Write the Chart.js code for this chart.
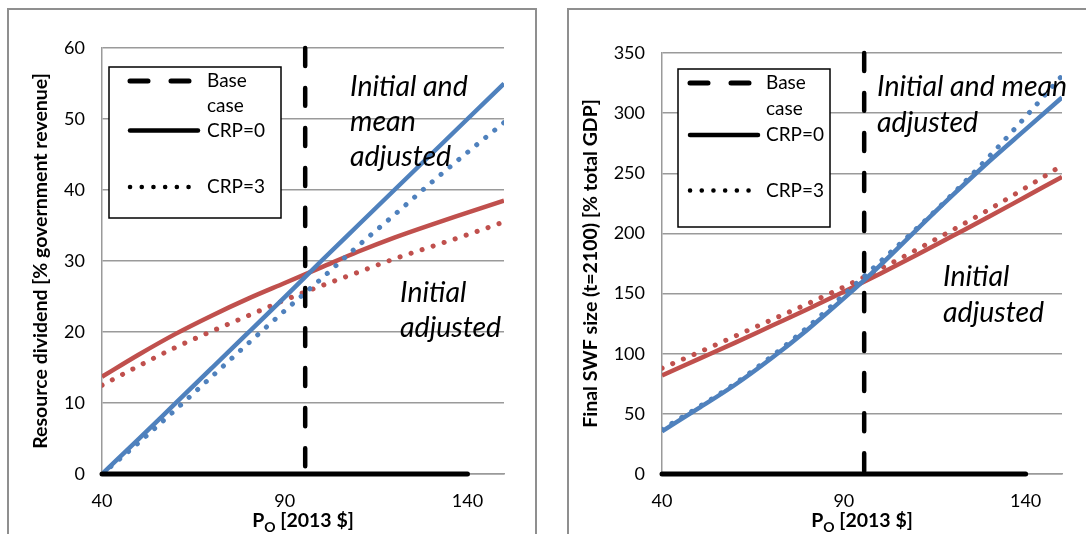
<!DOCTYPE html>
<html>
<head>
<meta charset="utf-8">
<script src="https://cdn.jsdelivr.net/npm/chart.js@4.4.1/dist/chart.umd.min.js"></script>
<style>
html, body { margin: 0; padding: 0; background: #fff; overflow: hidden; width: 1086px; height: 534px; }
.panel { position: absolute; border: 2px solid #8f8f8f; background: #fff; }
#leftPanel { left: 7px; top: 8px; width: 526px; height: 600px; }
#rightPanel { left: 567px; top: 8px; width: 600px; height: 600px; }
canvas { display: block; }
</style>
</head>
<body>
<div class="panel" id="leftPanel"><canvas id="dividend" width="526" height="524"></canvas></div>
<div class="panel" id="rightPanel"><canvas id="swf" width="517" height="524"></canvas></div>
<script>
// oil price grid [2013 $]
const price = [40, 50, 60, 70, 80, 90, 100, 110, 120, 130, 140, 150];

// resource dividend [% government revenue]
const dividendBothCrp0 = [0, 4.9, 9.9, 14.9, 19.9, 24.9, 30, 35, 40, 45, 50, 55];
const dividendBothCrp3 = [0, 4.4, 9.0, 13.7, 18.4, 23.0, 27.5, 32.1, 36.5, 41.0, 45.3, 49.5];
const dividendInitCrp0 = [13.7, 16.8, 19.7, 22.3, 24.7, 26.9, 29.1, 31.3, 33.3, 35.1, 36.8, 38.5];
const dividendInitCrp3 = [12.5, 15.2, 17.8, 20.1, 22.3, 24.5, 26.5, 28.4, 30.3, 32.0, 33.7, 35.5];

// final SWF size (t=2100) [% total GDP]
const swfBothCrp0 = [35.5, 54.5, 74, 96, 120, 146, 173.5, 203, 232, 260, 286.5, 313];
const swfBothCrp3 = [37, 55.5, 75, 97.5, 122, 149, 176.5, 204, 233, 264, 297, 331];
const swfInitCrp0 = [82, 95.5, 109, 123, 137, 151.5, 166.5, 182, 198, 214, 230.5, 247];
const swfInitCrp3 = [88, 101, 114.5, 128, 141.5, 155.5, 170.5, 186.5, 203, 220, 238, 256.5];

const basePrice = 95.6;
const zeroLineX = [40, 140];

const xTicks = [40, 90, 140];
const dividendTicks = [0, 10, 20, 30, 40, 50, 60];
const swfTicks = [0, 50, 100, 150, 200, 250, 300, 350];

const legendLabels = [["Base", "case"], ["CRP=0"], ["CRP=3"]];
const dividendNotes = [["Initial and", "mean", "adjusted"], ["Initial", "adjusted"]];
const swfNotes = [["Initial and mean", "adjusted"], ["Initial", "adjusted"]];

const blue = "#4f81bd";
const red = "#c0504d";
const gridGray = "#9a9a9a";

Chart.defaults.font.family = "Lato, sans-serif";
Chart.defaults.color = "#000";


function pts(xs, ys) {
    return xs.map((x, i) => ({ x: x, y: ys[i] }));
}


function buildDatasets(yTicks, bothCrp0, bothCrp3, initCrp0, initCrp3) {

    const top = yTicks[yTicks.length - 1];

    return [
        {
            data: pts(zeroLineX, [0, 0]),
            borderColor: "#000",
            borderWidth: 5,
            borderCapStyle: "round",
            clip: false
        },
        {
            data: [{ x: basePrice, y: top }, { x: basePrice, y: 0 }],
            borderColor: "#000",
            borderWidth: 4.5,
            borderDash: [18, 22],
            borderCapStyle: "round",
            clip: false
        },
        {
            data: pts(price, bothCrp0),
            borderColor: blue,
            borderWidth: 4.5
        },
        {
            data: pts(price, bothCrp3),
            borderColor: blue,
            borderWidth: 5,
            borderDash: [0.1, 11.5],
            borderCapStyle: "round"
        },
        {
            data: pts(price, initCrp0),
            borderColor: red,
            borderWidth: 4.5
        },
        {
            data: pts(price, initCrp3),
            borderColor: red,
            borderWidth: 5,
            borderDash: [0.1, 11.5],
            borderCapStyle: "round"
        }
    ];
}


// legend box, notes and x title with subscript
const decor = {

    id: "decor",

    afterDraw(chart, args, o) {

        const ctx = chart.ctx;
        const area = chart.chartArea;

        ctx.save();

        // legend
        const b = o.box;

        ctx.fillStyle = "#fff";
        ctx.fillRect(b.x, b.y, b.w, b.h);
        ctx.lineWidth = 1.5;
        ctx.strokeStyle = "#000";
        ctx.strokeRect(b.x, b.y, b.w, b.h);

        ctx.strokeStyle = "#000";
        ctx.lineCap = "round";

        // base case dashes
        ctx.lineWidth = 5;
        ctx.setLineDash([]);
        let y0 = b.y + o.rows[0];
        ctx.beginPath();
        ctx.moveTo(o.sx + 2, y0); ctx.lineTo(o.sx + 20, y0);
        ctx.moveTo(o.sx + 43, y0); ctx.lineTo(o.sx + 61, y0);
        ctx.stroke();

        // CRP=0 solid
        let y1 = b.y + o.rows[2];
        ctx.lineWidth = 4.5;
        ctx.beginPath();
        ctx.moveTo(o.sx + 2, y1); ctx.lineTo(o.sx + 70, y1);
        ctx.stroke();

        // CRP=3 dots
        let y2 = b.y + o.rows[3];
        ctx.lineWidth = 4.5;
        ctx.setLineDash([0.1, 11.6]);
        ctx.beginPath();
        ctx.moveTo(o.sx + 2, y2); ctx.lineTo(o.sx + 62, y2);
        ctx.stroke();
        ctx.setLineDash([]);

        ctx.fillStyle = "#000";
        ctx.font = "19px Lato";
        ctx.textBaseline = "middle";
        ctx.textAlign = "left";
        ctx.fillText(legendLabels[0][0], o.tx, b.y + o.rows[0]);
        ctx.fillText(legendLabels[0][1], o.tx, b.y + o.rows[1]);
        ctx.fillText(legendLabels[1][0], o.tx, b.y + o.rows[2]);
        ctx.fillText(legendLabels[2][0], o.tx, b.y + o.rows[3]);

        // notes
        ctx.font = "italic 28.5px Lato";
        o.notes.forEach((lines, i) => {
            const p = o.notePos[i];
            lines.forEach((t, j) => {
                ctx.fillText(t, p.x, p.y + j * o.noteGap);
            });
        });

        // x axis title: P with subscript O
        const big = "bold 19.5px Lato";
        const small = "bold 14px Lato";
        ctx.font = big;
        const wP = ctx.measureText("P").width;
        const wRest = ctx.measureText(" [2013 $]").width;
        ctx.font = small;
        const wO = ctx.measureText("O").width;
        let x = (area.left + area.right) / 2 - (wP + wO + wRest) / 2;
        const ty = o.titleY;

        ctx.font = big;
        ctx.fillText("P", x, ty);
        x += wP;
        ctx.font = small;
        ctx.fillText("O", x, ty + 6);
        x += wO;
        ctx.font = big;
        ctx.fillText(" [2013 $]", x, ty);

        ctx.restore();
    }
};


function makeChart(canvasId, yTicks, yTitle, yTitlePad, datasets, pad, decorOpts) {

    return new Chart(document.getElementById(canvasId), {

        type: "scatter",

        data: { datasets: datasets },

        options: {
            responsive: false,
            animation: false,
            showLine: true,
            elements: {
                point: { radius: 0 },
                line: { cubicInterpolationMode: "monotone" }
            },
            layout: {
                padding: pad
            },
            plugins: {
                legend: { display: false },
                tooltip: { enabled: false },
                decor: decorOpts
            },
            scales: {
                x: {
                    type: "linear",
                    min: 40,
                    max: 150,
                    afterBuildTicks: s => { s.ticks = xTicks.map(v => ({ value: v })); },
                    afterFit: s => { s.height = 60; },
                    grid: { display: false, drawTicks: false },
                    border: { display: true, color: gridGray, width: 1.5 },
                    ticks: { font: { size: 18 }, padding: 16, maxRotation: 0, autoSkip: false }
                },
                y: {
                    type: "linear",
                    min: 0,
                    max: yTicks[yTicks.length - 1],
                    afterBuildTicks: s => { s.ticks = yTicks.map(v => ({ value: v })); },
                    afterFit: s => { s.width = 93; },
                    grid: { color: gridGray, lineWidth: 1.5, drawTicks: false },
                    border: { display: true, color: gridGray, width: 1.5 },
                    ticks: { font: { size: 18 }, padding: 17 },
                    title: {
                        display: true,
                        text: yTitle,
                        font: { size: 19.5, weight: "bold" },
                        padding: { top: yTitlePad, bottom: 0 }
                    }
                }
            }
        },

        plugins: [decor]
    });
}


makeChart(
    "dividend",
    dividendTicks,
    "Resource dividend [% government revenue]",
    20,
    buildDatasets(dividendTicks, dividendBothCrp0, dividendBothCrp3, dividendInitCrp0, dividendInitCrp3),
    { left: 0, right: 31, top: 38, bottom: 0 },
    {
        box: { x: 100, y: 57, w: 172, h: 151 },
        sx: 119,
        tx: 198,
        rows: [14, 39, 63.5, 120],
        notes: dividendNotes,
        notePos: [{ x: 341, y: 77 }, { x: 391, y: 283 }],
        noteGap: 35,
        titleY: 511
    }
);

makeChart(
    "swf",
    swfTicks,
    "Final SWF size (t=2100) [% total GDP]",
    10,
    buildDatasets(swfTicks, swfBothCrp0, swfBothCrp3, swfInitCrp0, swfInitCrp3),
    { left: 0, right: 24, top: 43, bottom: 0 },
    {
        box: { x: 109, y: 59, w: 152, h: 158 },
        sx: 119,
        tx: 197,
        rows: [14, 40, 66, 121.5],
        notes: swfNotes,
        notePos: [{ x: 308, y: 77 }, { x: 374, y: 267 }],
        noteGap: 36,
        titleY: 511
    }
);
</script>
</body>
</html>
